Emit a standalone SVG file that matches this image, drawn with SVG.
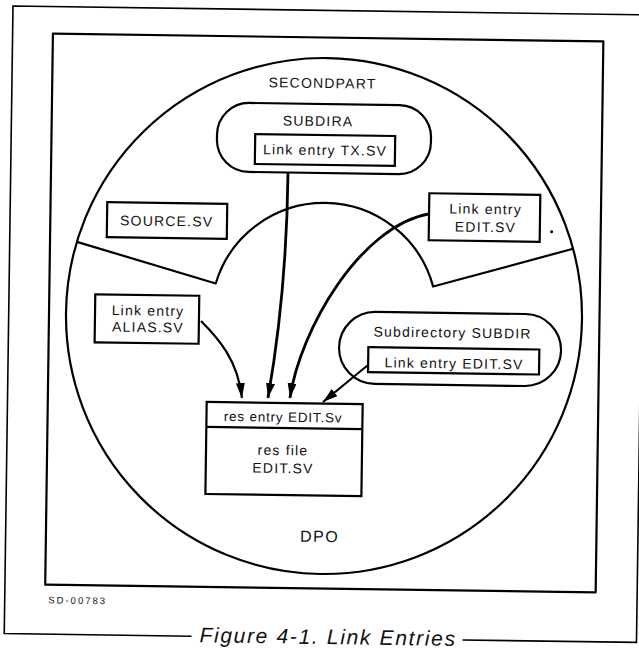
<svg xmlns="http://www.w3.org/2000/svg" width="639" height="649" viewBox="0 0 639 649">
  <defs>
    <style>
      .line { fill: none; stroke: #000; stroke-width: 2.2; stroke-linejoin: round; }
      .thin { fill: none; stroke: #000; stroke-width: 1.6; }
      .box { fill: #fff; stroke: #000; stroke-width: 2.2; }
      .conn { fill: none; stroke: #000; stroke-width: 2.2; }
      text { font-family: "Liberation Sans", Arial, sans-serif; font-size: 14px; letter-spacing: 1.2px; fill: #111; text-anchor: middle; }
      .small { font-size: 9.5px; letter-spacing: 2px; text-anchor: start; }
      .caption { font-size: 21px; font-style: italic; letter-spacing: 0.5px; text-anchor: start; }
      .big { font-size: 16px; letter-spacing: 1.5px; }
      .res { font-size: 13.5px; letter-spacing: 0.8px; }
    </style>
    <marker id="arrow" markerUnits="userSpaceOnUse" markerWidth="16" markerHeight="10" refX="15" refY="4.5" orient="auto">
      <path d="M0,0 L15,4.5 L0,9 z" fill="#000"/>
    </marker>
  </defs>
  <rect width="639" height="649" fill="#fff"/>

  <!-- whole page sits slightly skewed on the sheet -->
  <g transform="rotate(0.8 324 316)">

    <!-- page frame with the caption rule -->
    <g id="frame">
      <path class="thin" d="M196,638 L8.7,638 L8.7,10.4 L641,10.4 L641,638 L467,638"/>
      <rect class="line" x="49" y="37.5" width="550.5" height="551"/>
      <text class="small" x="52.3" y="607.2">SD-00783</text>
      <text class="caption" x="204" y="644" textLength="256" lengthAdjust="spacing">Figure 4-1.  Link Entries</text>
    </g>

    <!-- device DP0 and its SECONDPART sector -->
    <g id="dp0">
      <circle class="line" cx="324" cy="316" r="258"/>
      <text class="big" x="322.7" y="542">DPO</text>
    </g>
    <g id="secondpart">
      <path class="line" d="M75.9,245.3 L215.3,285 A113,113 0 0 1 432.7,285 L572.1,245.3"/>
      <text x="319.3" y="88">SECONDPART</text>
    </g>

    <!-- directory SUBDIRA -->
    <g id="subdira">
      <rect class="box" x="214.5" y="104" width="214" height="69" rx="32" ry="32"/>
      <text x="315.3" y="126">SUBDIRA</text>
      <rect class="box" x="252.7" y="135" width="140" height="30"/>
      <text x="322.8" y="155">Link entry TX.SV</text>
    </g>

    <g id="source-sv">
      <rect class="box" x="105.7" y="205.2" width="120" height="35"/>
      <text x="165.4" y="228.2">SOURCE.SV</text>
    </g>

    <g id="link-edit-top">
      <rect class="box" x="427.6" y="191.8" width="111" height="47"/>
      <text x="484.1" y="211.7">Link entry</text>
      <text x="484.3" y="229.7">EDIT.SV</text>
      <circle cx="550.5" cy="228.5" r="1.5" fill="#000"/>
    </g>

    <g id="link-alias">
      <rect class="box" x="95" y="297.5" width="104" height="48"/>
      <text x="148" y="318">Link entry</text>
      <text x="148.2" y="334.5">ALIAS.SV</text>
    </g>

    <!-- subdirectory SUBDIR -->
    <g id="subdir">
      <rect class="box" x="339.5" y="311.2" width="222" height="72" rx="36" ry="36"/>
      <text x="452.8" y="335.7">Subdirectory SUBDIR</text>
      <rect class="box" x="368.8" y="346.5" width="171" height="25"/>
      <text x="454.7" y="366.5">Link entry EDIT.SV</text>
    </g>

    <!-- the file everything links to -->
    <g id="res-file">
      <rect class="box" x="207.9" y="403.6" width="156" height="92"/>
      <line class="line" x1="207.9" y1="428.6" x2="363.9" y2="428.6"/>
      <text class="res" x="284.5" y="422.3">res entry EDIT.Sv</text>
      <text x="284.9" y="455.6">res file</text>
      <text x="285.2" y="473.6">EDIT.SV</text>
    </g>

    <!-- link connectors -->
    <g id="connectors">
      <path class="conn" style="stroke-width:2.8" d="M286,173.5 C286.2,260.5 280.2,330.6 269.1,398.8" marker-end="url(#arrow)"/>
      <path class="conn" style="stroke-width:2.8" d="M427.6,212.5 C358.7,225.5 300.2,330.3 291.1,398.5" marker-end="url(#arrow)"/>
      <path class="conn" d="M201.1,322.7 C218.3,339.5 238.6,361.2 243.1,399.1" marker-end="url(#arrow)"/>
      <path class="conn" d="M368.7,364.4 L324.2,402" marker-end="url(#arrow)"/>
    </g>
  </g>
</svg>
